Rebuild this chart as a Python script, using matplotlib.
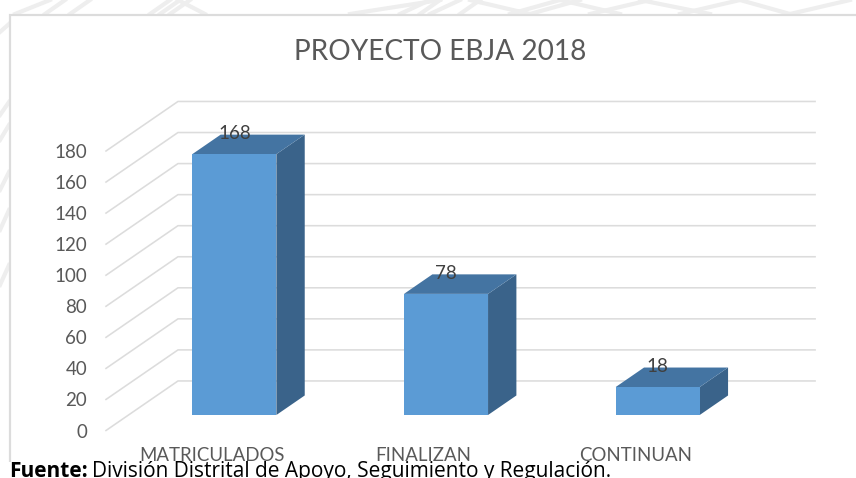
import matplotlib
matplotlib.use('Agg')
import matplotlib.pyplot as plt
from matplotlib.patches import Rectangle

categories = ['MATRICULADOS', 'FINALIZAN', 'CONTINUAN']
values = [168, 78, 18]
y_ticks = [0, 20, 40, 60, 80, 100, 120, 140, 160, 180]

# pieces of the faint background pattern (figure pixels, y from the top)
pattern_x = [[15, 50], [45, 65], [70, 90], [150, 170], [160, 180], [170, 190], [178, 205],
             [350, 440], [400, 430], [420, 440], [430, 460], [460, 480], [470, 530], [530, 580],
             [510, 560], [560, 620], [590, 650], [640, 710], [680, 740], [740, 790], [790, 850],
             [0, 9], [0, 9], [0, 9], [0, 9], [0, 9], [0, 9]]
pattern_y = [[14, 0], [14, 0], [14, 0], [14, 0], [14, 0], [14, 0], [0, 14],
             [14, 0], [14, 0], [14, 0], [14, 0], [14, 0], [0, 14], [14, 0],
             [14, 0], [0, 14], [14, 0], [0, 14], [14, 0], [0, 14], [14, 0],
             [32, 24], [115, 102], [140, 125], [190, 172], [230, 210], [285, 265]]

W, H = 856, 478
DEPTH_X = 0.340   # one full depth step in category units
DEPTH_Y = 31.9    # one full depth step in value units
BAR_WIDTH = 0.397
BAR_D0, BAR_D1 = 0.313, 0.707
WALL_RIGHT = 2.51

grid_color = '#dcdcdc'
text_color = '#595959'


def project(x, v, d):
    # oblique projection of the 3d column chart
    return x + d * DEPTH_X, v + d * DEPTH_Y


def face(ax, corners, color):
    pts = [project(*c) for c in corners]
    ax.fill([p[0] for p in pts], [p[1] for p in pts], color=color, lw=0, clip_on=False, zorder=3)


fig = plt.figure(figsize=(W / 100, H / 100), dpi=100)
plt.rcParams['font.family'] = ['Lato', 'DejaVu Sans']

# background pattern and chart frame
for xs, ys in zip(pattern_x, pattern_y):
    fig.add_artist(plt.Line2D([x / W for x in xs], [1 - y / H for y in ys], color='#eeeeee', lw=3, zorder=-3))
fig.add_artist(Rectangle((9.5 / W, -0.1), (W + 20) / W, 1 - 15 / H + 0.1, transform=fig.transFigure,
                         fc='white', ec=grid_color, lw=1.6, zorder=-2))

ax = fig.add_axes([106 / W, 1 - 430.5 / H, 635 / W, 279.5 / H])
ax.set_xlim(-0.5, 2.5)
ax.set_ylim(0, 180)
ax.patch.set_alpha(0)
for s in ax.spines.values():
    s.set_visible(False)

# back wall grid and side wall diagonals
for v in y_ticks:
    x0, y0 = project(-0.5, v, 0)
    x1, y1 = project(-0.5, v, 1)
    x2, y2 = project(WALL_RIGHT, v, 1)
    ax.plot([x0, x1, x2], [y0, y1, y2], color=grid_color, lw=1.15, clip_on=False, zorder=1)

for i, val in enumerate(values):
    left, right = i - BAR_WIDTH / 2, i + BAR_WIDTH / 2
    face(ax, [(right, 0, BAR_D0), (right, 0, BAR_D1), (right, val, BAR_D1), (right, val, BAR_D0)], '#3a638a')
    face(ax, [(left, val, BAR_D0), (right, val, BAR_D0), (right, val, BAR_D1), (left, val, BAR_D1)], '#4474a2')
    face(ax, [(left, 0, BAR_D0), (right, 0, BAR_D0), (right, val, BAR_D0), (left, val, BAR_D0)], '#5b9bd5')
    ax.annotate(str(val), project(i, val, BAR_D0), xytext=(0, 15), textcoords='offset points',
                ha='center', va='center', fontsize=13.5, color='#404040', zorder=5, annotation_clip=False)

ax.set_yticks(y_ticks)
ax.set_xticks(range(len(categories)))
ax.set_xticklabels(categories)
ax.tick_params(axis='y', length=0, pad=13.5, labelsize=13.5, labelcolor=text_color)
ax.tick_params(axis='x', length=0, pad=12, labelsize=13.4, labelcolor=text_color)

fig.text(440.5 / W, 1 - 52 / H, 'PROYECTO EBJA 2018', ha='center', va='center', fontsize=20.2, color=text_color)

# the caption sits on a white strip that cuts the bottom of the axis labels
fig.add_artist(Rectangle((0, 0), 1, (H - 462) / H, transform=fig.transFigure, fc='white', ec='none', zorder=8))
t1 = fig.text(9 / W, 1 - 477 / H, 'Fuente:', ha='left', va='baseline', fontsize=15, fontweight='bold',
              family='Open Sans', color='black', zorder=9)
fig.canvas.draw()
bb = t1.get_window_extent()
fig.text((bb.x1 + 4) / W, 1 - 477 / H, 'División Distrital de Apoyo, Seguimiento y Regulación.', ha='left', va='baseline',
         fontsize=15, family='Open Sans', color='black', zorder=9)

fig.savefig('out.png', dpi=100)
